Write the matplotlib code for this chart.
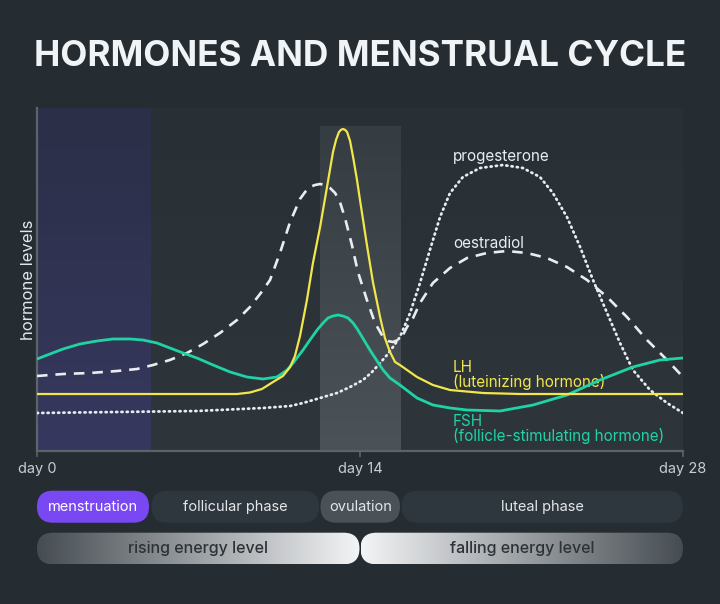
import numpy as np
import matplotlib.pyplot as plt
from matplotlib.patches import FancyBboxPatch
from matplotlib.colors import to_rgb

plt.rcParams['font.family'] = ['Inter', 'DejaVu Sans']

# hormone curves, x = day of cycle, y = relative level (0..343)
lh_day = [0, 8.67, 9.23, 9.75, 10.23, 10.66, 10.97, 11.18, 11.40, 11.70,
          11.96, 12.27, 12.57, 12.83, 12.96, 13.09, 13.18, 13.26, 13.35, 13.44,
          13.57, 13.70, 13.87, 14.00, 14.30, 14.56, 14.87, 15.08, 15.30, 15.52,
          15.73, 16.47, 17.16, 17.90, 19.33, 20.94, 28]
lh_lvl = [57, 57, 58.5, 62, 69, 75, 84, 95, 115, 151,
          188, 224, 264, 299, 311, 319, 321.2, 322, 321.2, 319,
          310, 294, 271, 251, 206, 169, 134, 113, 99, 89,
          86, 74, 66, 61, 58, 57, 57]

fsh_day = [0, 0.56, 1.13, 1.86, 2.60, 3.29, 4.03, 4.59, 5.20, 5.76,
           6.33, 6.93, 7.63, 8.37, 9.10, 9.80, 10.40, 10.84, 11.10, 11.53,
           11.83, 12.14, 12.40, 12.61, 12.83, 13.05, 13.26, 13.48, 13.70, 13.91,
           14.17, 14.43, 14.74, 15.00, 15.30, 15.73, 16.47, 17.16, 17.90, 18.64,
           20.07, 21.50, 22.97, 24.40, 25.83, 27.00, 28]
fsh_lvl = [92, 97, 102, 107, 110, 112, 112, 111, 108, 103,
           98, 93, 86, 79, 74, 72, 74, 81, 88, 101,
           111, 121, 128, 133, 135, 136, 135, 133, 128, 121,
           111, 101, 90, 81, 73, 66, 53, 46, 43, 41,
           40, 46, 56, 71, 84, 91, 93]

oes_day = [0, 1.13, 2.30, 3.47, 4.33, 5.03, 5.76, 6.50, 7.20, 7.93,
           8.67, 9.23, 9.80, 10.10, 10.53, 10.97, 11.40, 11.62, 11.83, 12.05,
           12.27, 12.48, 12.70, 12.92, 13.13, 13.35, 13.65, 13.91, 14.30, 14.65,
           15.00, 15.21, 15.43, 15.65, 15.86, 16.04, 16.30, 16.60, 17.16, 17.90,
           18.64, 19.50, 20.37, 21.24, 22.10, 22.97, 23.84, 24.71, 25.57, 26.44,
           27.31, 28]
oes_lvl = [75, 77, 78, 80, 82, 86, 91, 98, 107, 118,
           131, 144, 161, 171, 198, 229, 252, 259, 264, 266,
           267, 266, 263, 258, 249, 233, 206, 179, 151, 128,
           114, 110, 109, 111, 116, 124, 133, 148, 168, 183,
           193, 198, 200, 198, 193, 184, 171, 154, 134, 111,
           91, 74]

pro_day = [0, 6.93, 9.80, 10.97, 11.53, 12.27, 13.00, 13.57, 14.13, 14.52,
           14.87, 15.17, 15.43, 15.73, 16.17, 16.60, 17.03, 17.47, 17.90, 18.46,
           19.20, 20.20, 21.06, 21.80, 22.36, 22.97, 23.54, 24.10, 24.71, 25.27,
           25.83, 26.57, 27.31, 28]
pro_lvl = [38, 40, 43, 45, 48, 53, 58, 64, 71, 79,
           88, 96, 104, 114, 138, 168, 201, 234, 258, 274,
           283, 286, 283, 274, 258, 234, 204, 171, 138, 108,
           81, 61, 48, 38]

# phases (days)
menstruation = (0, 4.9)
ovulation = (12.27, 15.76)
tick_days = [0, 14, 28]
tick_labels = ['day 0', 'day 14', 'day 28']

BG = '#252d33'
YELLOW = '#f2e64b'
TEAL = '#1fd3a5'
WHITE = '#e9edf0'


def vgrad(ax, x0, x1, y0, y1, c_bottom, c_top, **kw):
    a, b = np.array(to_rgb(c_bottom)), np.array(to_rgb(c_top))
    t = np.linspace(0, 1, 128)[:, None, None]
    img = a + (b - a) * t
    return ax.imshow(img, extent=[x0, x1, y0, y1], origin='lower', aspect='auto', **kw)


def hgrad(ax, x0, x1, y0, y1, c_left, c_right, **kw):
    a, b = np.array(to_rgb(c_left)), np.array(to_rgb(c_right))
    t = np.linspace(0, 1, 256)[None, :, None]
    img = a + (b - a) * t
    return ax.imshow(img, extent=[x0, x1, y1, y0], aspect='auto', **kw)


fig = plt.figure(figsize=(7.2, 6.04), dpi=100, facecolor=BG)
ax = fig.add_axes([37 / 720, (604 - 451) / 604, 646 / 720, 343 / 604])
ax.set_facecolor('none')

# background bands
vgrad(ax, menstruation[1], 28, 0, 343, '#2e363c', '#283036', zorder=0)
vgrad(ax, menstruation[0], menstruation[1], 0, 343, '#37385f', '#2b2f47', zorder=0)
vgrad(ax, ovulation[0], ovulation[1], 0, 325, '#4b5359', '#353d43', zorder=0)

ax.plot(pro_day, pro_lvl, color=WHITE, lw=2, ls=(0, (0.4, 1.5)), dash_capstyle='round',
        solid_joinstyle='round', zorder=3)
ax.plot(oes_day, oes_lvl, color=WHITE, lw=1.9, ls=(0, (4, 3)), zorder=3)
ax.plot(fsh_day, fsh_lvl, color=TEAL, lw=2, solid_joinstyle='round', zorder=4)
ax.plot(lh_day, lh_lvl, color=YELLOW, lw=1.6, solid_joinstyle='round', zorder=5)

ax.set_xlim(0, 28)
ax.set_ylim(0, 343)
for s in ['top', 'right']:
    ax.spines[s].set_visible(False)
for s in ['left', 'bottom']:
    ax.spines[s].set_color('#5c646a')
    ax.spines[s].set_linewidth(1.6)
ax.set_yticks([])
ax.set_xticks(tick_days)
ax.set_xticklabels(tick_labels, fontsize=10.5, color='#c9ced2')
ax.tick_params(axis='x', colors='#5c646a', length=4, width=1.2, pad=4, labelcolor='#c9ced2')
ax.set_ylabel('hormone levels', fontsize=12, color='#e3e7ea', labelpad=1)

# curve labels
lx = 18.03
fs = 11
ax.text(lx, 294, 'progesterone', color=WHITE, fontsize=fs, va='center')
ax.text(lx, 208, 'oestradiol', color=WHITE, fontsize=fs, va='center')
ax.text(lx, 84, 'LH', color=YELLOW, fontsize=fs, va='center')
ax.text(lx, 69, '(luteinizing hormone)', color=YELLOW, fontsize=fs, va='center')
ax.text(lx, 29, 'FSH', color=TEAL, fontsize=fs, va='center')
ax.text(lx, 15, '(follicle-stimulating hormone)', color=TEAL, fontsize=fs, va='center')

# overlay in pixel coordinates for title and phase pills
ov = fig.add_axes([0, 0, 1, 1], zorder=10)
ov.set_xlim(0, 720)
ov.set_ylim(604, 0)
ov.axis('off')
ov.patch.set_visible(False)

title = ov.text(360, 56, 'HORMONES AND MENSTRUAL CYCLE', color='#f1f4f6', fontsize=22,
                fontweight='bold', ha='center', va='center')
fig.canvas.draw()
w = title.get_window_extent().width
title.set_fontsize(22 * 651 / w)

phases = [('menstruation', 37, 149, '#7a48f2', '#ffffff'),
          ('follicular phase', 151.5, 319, '#2f373e', '#e3e7ea'),
          ('ovulation', 320.5, 400, '#4a5258', '#e3e7ea'),
          ('luteal phase', 401.7, 683, '#2f373e', '#e3e7ea')]
r1, h1 = 490.7, 32
for name, x0, x1, fc, tc in phases:
    p = FancyBboxPatch((x0, r1), x1 - x0, h1, boxstyle='round,pad=0,rounding_size=16',
                       fc=fc, ec='none')
    ov.add_patch(p)
    ov.text((x0 + x1) / 2, r1 + h1 / 2, name, color=tc, fontsize=10.5, ha='center', va='center')

energy = [('rising energy level', 37, 359.5, '#454c52', '#f3f4f5'),
          ('falling energy level', 360.5, 683, '#f3f4f5', '#454c52')]
r2, h2 = 532.7, 31.6
for name, x0, x1, cl, cr in energy:
    p = FancyBboxPatch((x0, r2), x1 - x0, h2, boxstyle='round,pad=0,rounding_size=15.8',
                       fc='none', ec='none')
    ov.add_patch(p)
    im = hgrad(ov, x0, x1, r2, r2 + h2, cl, cr)
    im.set_clip_path(p)
    ov.text((x0 + x1) / 2, r2 + h2 / 2, name, color='#2b3238', fontsize=11.5, fontweight=500,
            ha='center', va='center')

ov.set_xlim(0, 720)
ov.set_ylim(604, 0)

fig.savefig('out.png', dpi=100, facecolor=BG)
